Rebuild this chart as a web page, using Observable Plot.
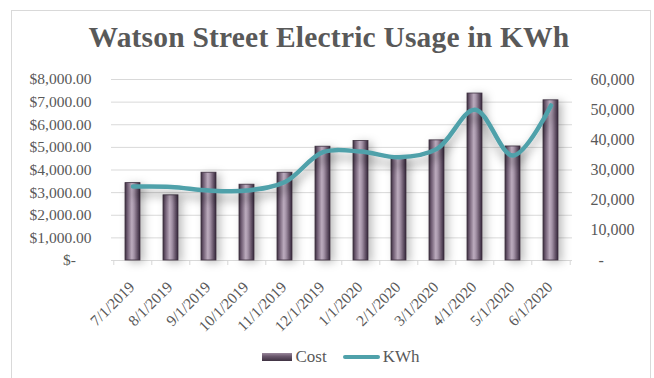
<!DOCTYPE html>
<html>
<head>
<meta charset="utf-8">
<script src="https://cdn.jsdelivr.net/npm/d3@7"></script>
<script src="https://cdn.jsdelivr.net/npm/@observablehq/plot@0.6"></script>
<style>
  html, body { margin: 0; padding: 0; background: #fff; }
  body { width: 654px; height: 378px; position: relative; overflow: hidden; font-family: "Liberation Serif", "DejaVu Serif", serif; }
  #frame { position: absolute; left: 11px; top: 10px; width: 640px; height: 380px; border: 1.5px solid #d9d9d9; box-sizing: border-box; }
  #title { position: absolute; left: 2px; top: 21px; width: 654px; text-align: center; font-size: 29.5px; font-weight: bold; color: #595959; letter-spacing: 0.2px; }
  #chart { position: absolute; left: 0; top: 0; }
  #legend { position: absolute; left: 14px; top: 347px; width: 654px; display: flex; justify-content: center; align-items: center; font-size: 17px; color: #595959; }
  .sw-bar { width: 30px; height: 8px; background: linear-gradient(to bottom, #9a889c, #6a586d 40%, #3f3242); margin-right: 3px; }
  .sw-line { width: 37px; height: 4px; background: #4fa1aa; border-radius: 2px; margin-left: 16px; margin-right: 3px; }
</style>
</head>
<body>
<div id="frame"></div>
<div id="title">Watson Street Electric Usage in KWh</div>
<div id="chart"></div>
<div id="legend"><div class="sw-bar"></div><span>Cost</span><div class="sw-line"></div><span>KWh</span></div>
<script>
const months = ["7/1/2019","8/1/2019","9/1/2019","10/1/2019","11/1/2019","12/1/2019","1/1/2020","2/1/2020","3/1/2020","4/1/2020","5/1/2020","6/1/2020"];
const cost = [3420, 2880, 3880, 3350, 3880, 5030, 5280, 4570, 5310, 7380, 5040, 7080];
const kwh = [24500, 24400, 23200, 23200, 26000, 35900, 36100, 34200, 37000, 50000, 34800, 51400];
const costTicks = [0, 1000, 2000, 3000, 4000, 5000, 6000, 7000, 8000];
const kwhTicks = [0, 10000, 20000, 30000, 40000, 50000, 60000];

const costMax = 8000, kwhMax = 60000;
const ratio = costMax / kwhMax;
const data = months.map((m, i) => ({month: m, cost: cost[i], kwh: kwh[i], kwhScaled: kwh[i] * ratio}));

const W = 654, H = 378;
const mL = 111, mR = 82, mT = 79, mB = 118;
const step = (W - mL - mR) / months.length;

const fmtCost = d => d === 0 ? "$-\u00a0\u00a0\u00a0\u00a0" : "$" + d3.format(",.2f")(d);
const fmtKwh = d => { const k = Math.round(d / ratio); return k === 0 ? "\u00a0\u00a0-" : d3.format(",")(k); };

const plot = Plot.plot({
  width: W, height: H,
  marginLeft: mL, marginRight: mR, marginTop: mT, marginBottom: mB,
  style: {fontFamily: "'Liberation Serif', serif", fontSize: "15.5px", color: "#595959", background: "transparent"},
  x: {domain: months, paddingInner: 0.6, paddingOuter: 0.3},
  y: {domain: [0, costMax]},
  marks: [
    Plot.ruleY(costTicks, {stroke: "#d9d9d9", strokeWidth: 1}),
    Plot.axisY({ticks: costTicks, tickFormat: fmtCost, tickSize: 0, tickPadding: 20, label: null, fill: "#595959", fontSize: 15.5}),
    Plot.axisY({anchor: "right", ticks: kwhTicks.map(k => k * ratio), tickFormat: fmtKwh, tickSize: 0, tickPadding: 18, label: null, fill: "#595959", fontSize: 16}),
    Plot.axisX({tickSize: 5, tickFormat: () => "", dx: -step / 2, stroke: "#d9d9d9", label: null}),
    Plot.axisX({ticks: [months[months.length - 1]], tickSize: 5, tickFormat: () => "", dx: step / 2, stroke: "#d9d9d9", label: null}),
    Plot.axisX({tickSize: 0, tickRotate: -45, tickPadding: 24, dx: -1, label: null, fill: "#595959", fontSize: 15.5}),
    Plot.barY(data, {x: "month", y: "cost", fill: "url(#barGrad)", stroke: "#3d3040", strokeWidth: 0.8, className: "bars"}),
    Plot.line(data, {x: "month", y: "kwhScaled", stroke: "#4fa1aa", strokeWidth: 4.5, curve: "catmull-rom", className: "kline"})
  ]
});

const svg = d3.select(plot);
const defs = svg.insert("defs", ":first-child");
const g = defs.append("linearGradient").attr("id", "barGrad").attr("x1", "0").attr("x2", "1").attr("y1", "0").attr("y2", "0");
[["0%", "#3b2e3e"], ["15%", "#6d5a70"], ["45%", "#bcacbe"], ["60%", "#a392a6"], ["85%", "#5e4d61"], ["100%", "#33273a"]]
  .forEach(([o, c]) => g.append("stop").attr("offset", o).attr("stop-color", c));
const f = defs.append("filter").attr("id", "shadow").attr("x", "-20%").attr("y", "-50%").attr("width", "140%").attr("height", "250%");
f.append("feDropShadow").attr("dx", 0).attr("dy", 7).attr("stdDeviation", 5).attr("flood-color", "#000").attr("flood-opacity", 0.35);
const fb = defs.append("filter").attr("id", "barShadow").attr("x", "-100%").attr("y", "-10%").attr("width", "300%").attr("height", "120%");
fb.append("feDropShadow").attr("dx", 4).attr("dy", 2).attr("stdDeviation", 4).attr("flood-color", "#000").attr("flood-opacity", 0.25);
svg.selectAll("g.kline").attr("filter", "url(#shadow)");
svg.selectAll("g.bars").attr("filter", "url(#barShadow)");
document.getElementById("chart").appendChild(plot);
</script>
</body>
</html>
